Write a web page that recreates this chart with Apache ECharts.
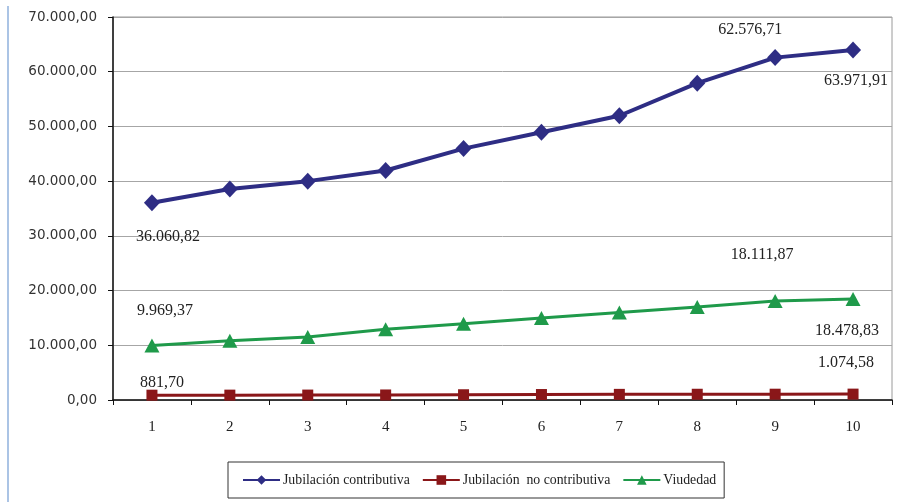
<!DOCTYPE html>
<html>
<head>
<meta charset="utf-8">
<script src="https://cdn.jsdelivr.net/npm/echarts@6/dist/echarts.min.js"></script>
<style>
  html, body { margin: 0; padding: 0; background: #fff; }
  #chart { width: 908px; height: 502px; }
</style>
</head>
<body>
<div id="chart"></div>
<script>
// Categories (years 1..10)
const categories = ['1', '2', '3', '4', '5', '6', '7', '8', '9', '10'];

// Series values
const jubilacionContributiva = [36060.82, 38570, 40000, 41950, 45950, 48950, 51950, 57900, 62576.71, 63971.91];
const jubilacionNoContributiva = [881.70, 890, 900, 920, 960, 1000, 1030, 1050, 1060, 1074.58];
const viudedad = [9969.37, 10850, 11500, 12950, 13950, 15000, 16000, 17000, 18111.87, 18478.83];

const seriesNames = ['Jubilación contributiva', 'Jubilación  no contributiva', 'Viudedad'];

// Y axis range
const yMin = 0, yMax = 70000, yStep = 10000;

// Spanish number format: 63.971,91
function fmt(v) {
  const parts = Number(v).toFixed(2).split('.');
  const int = parts[0].replace(/\B(?=(\d{3})+(?!\d))/g, '.');
  return int + ',' + parts[1];
}

const labelFont = { fontFamily: 'Liberation Serif', fontSize: 16, color: '#222' };

// Attach a value label to a given point, shifted by [dx, dy]
function withLabels(values, labelled) {
  return values.map((v, i) => {
    const off = labelled[i];
    if (!off) return v;
    return {
      value: v,
      label: Object.assign({
        show: true, position: 'inside', offset: off,
        formatter: p => fmt(p.value)
      }, labelFont)
    };
  });
}

const chart = echarts.init(document.getElementById('chart'), null, { renderer: 'canvas' });

chart.setOption({
  animation: false,
  backgroundColor: '#fff',
  graphic: [{
    type: 'line',
    shape: { x1: 8, y1: 6, x2: 8, y2: 502 },
    style: { stroke: '#8fb0dc', lineWidth: 1.5 }
  }],
  grid: {
    left: 113, right: 16, top: 17, bottom: 102,
    show: true, borderColor: '#9a9a9a', borderWidth: 1
  },
  legend: {
    left: 228, top: 462,
    padding: [11, 8, 11, 14],
    itemGap: 12,
    itemWidth: 37, itemHeight: 12,
    borderColor: '#333', borderWidth: 1,
    textStyle: { fontFamily: 'Liberation Serif', fontSize: 13.8, color: '#222', padding: [0, 0, 0, -2] },
    data: seriesNames
  },
  xAxis: {
    type: 'category',
    data: categories,
    boundaryGap: true,
    axisLine: { lineStyle: { color: '#111', width: 1.5 } },
    axisTick: { show: true, length: 5, inside: false, lineStyle: { color: '#111' } },
    axisLabel: { margin: 20, fontFamily: 'Liberation Serif', fontSize: 15, color: '#222' },
    splitLine: { show: false }
  },
  yAxis: {
    type: 'value',
    min: yMin, max: yMax, interval: yStep,
    axisLine: { show: true, lineStyle: { color: '#111', width: 1.5 } },
    axisTick: { show: true, length: 5, lineStyle: { color: '#111' } },
    axisLabel: { margin: 16, fontFamily: 'DejaVu Sans', fontSize: 13.5, color: '#333', formatter: v => fmt(v) },
    splitLine: { show: true, lineStyle: { color: '#a6a6a6', width: 1 } }
  },
  series: [
    {
      name: seriesNames[0],
      type: 'line',
      data: withLabels(jubilacionContributiva, { 0: [16, 34], 8: [-25, -28], 9: [3, 31] }),
      symbol: 'diamond', symbolSize: [16, 17],
      lineStyle: { color: '#2e2d84', width: 4 },
      itemStyle: { color: '#2e2d84' },
      z: 3
    },
    {
      name: seriesNames[1],
      type: 'line',
      data: withLabels(jubilacionNoContributiva, { 0: [10, -12], 9: [-7, -31] }),
      symbol: 'rect', symbolSize: 11,
      lineStyle: { color: '#8a1719', width: 3 },
      itemStyle: { color: '#8a1719' },
      z: 2
    },
    {
      name: seriesNames[2],
      type: 'line',
      data: withLabels(viudedad, { 0: [13, -35], 8: [-13, -46], 9: [-6, 32] }),
      symbol: 'triangle', symbolSize: [15, 14],
      lineStyle: { color: '#1f9a4a', width: 3 },
      itemStyle: { color: '#1f9a4a' },
      z: 2
    }
  ]
});
</script>
</body>
</html>
